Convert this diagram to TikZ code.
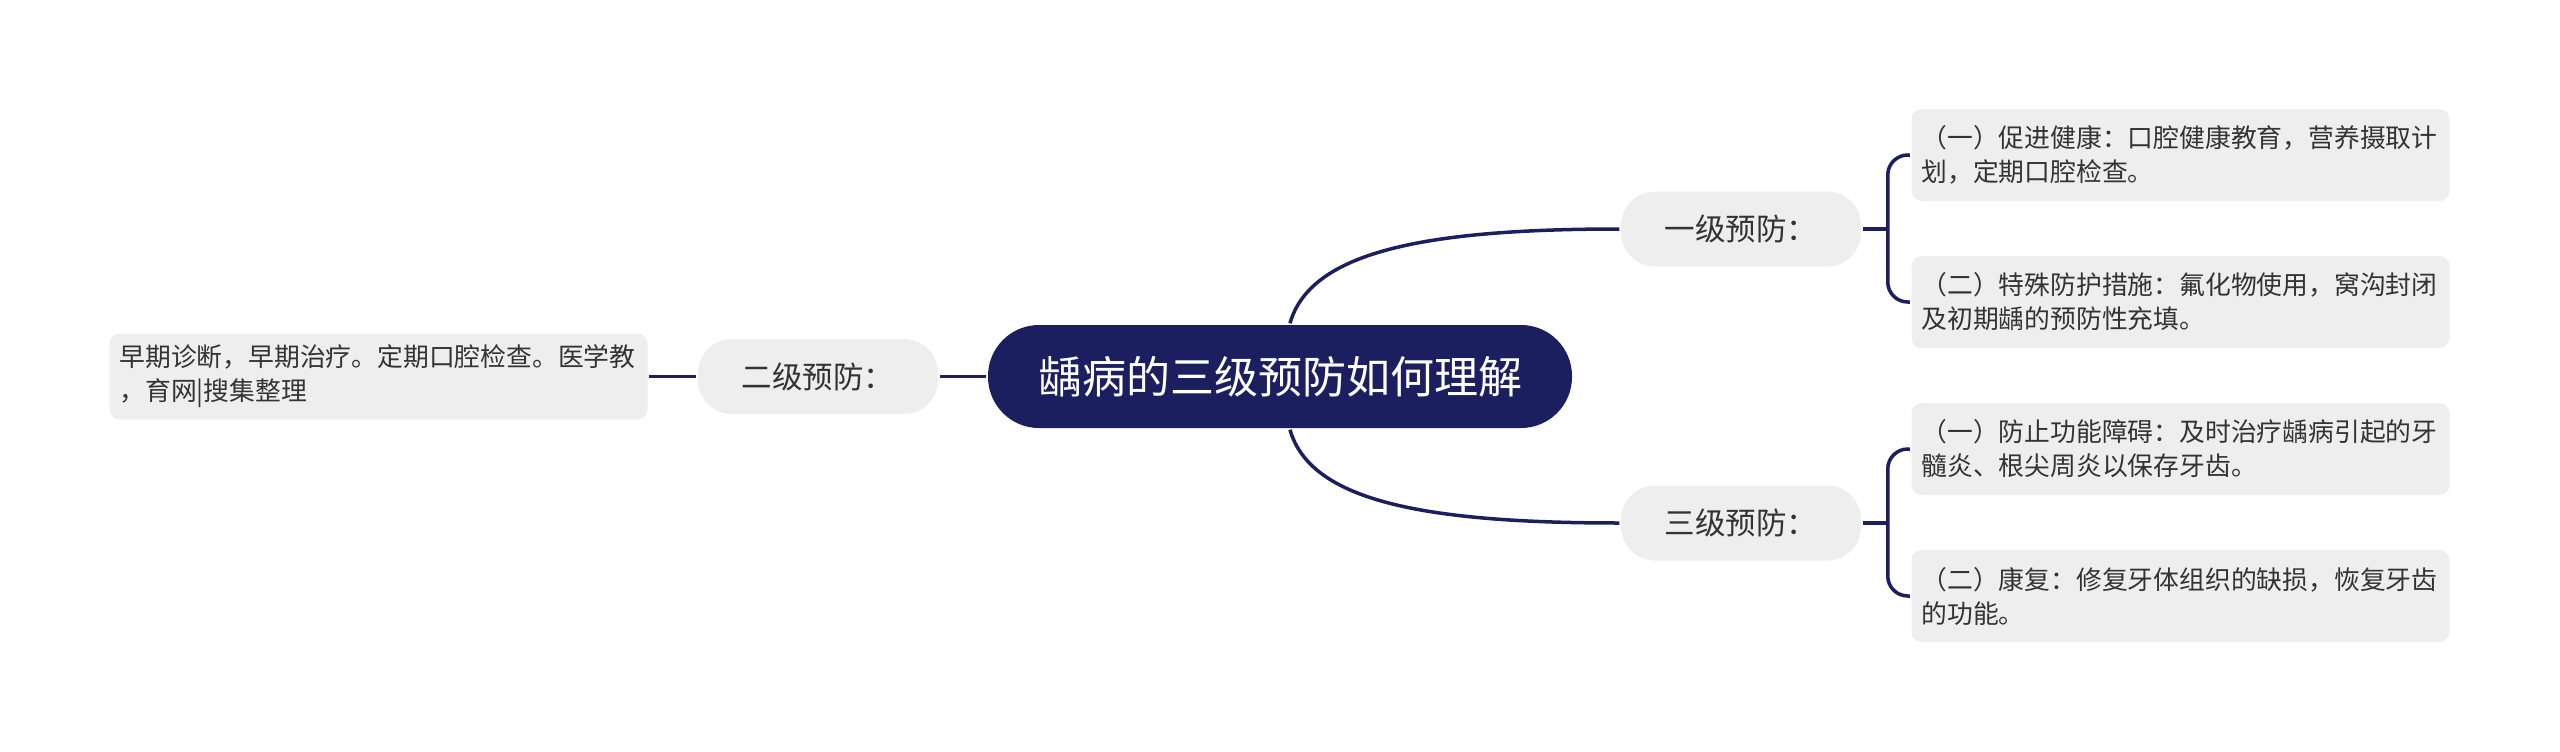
\documentclass[tikz,border=0pt]{standalone}
\usepackage{fontspec}
\setmainfont{Noto Sans CJK SC}
\definecolor{navy}{HTML}{1B1F5F}
\definecolor{pale}{HTML}{EEEEEE}
\definecolor{ink}{HTML}{333333}
\begin{document}
\begin{tikzpicture}[x=1pt, y=-1pt, line width=3.5pt,
  root/.style={fill=navy, text=white, rounded corners=51pt, inner sep=0pt,
    minimum width=584pt, minimum height=103pt, font=\fontsize{44}{52}\selectfont},
  level/.style={fill=pale, text=ink, rounded corners=34pt, inner sep=0pt,
    minimum width=240pt, minimum height=75pt, font=\fontsize{30.5}{36}\selectfont},
  leaf/.style={fill=pale, text=ink, rounded corners=10pt, inner xsep=10pt, inner ysep=0pt,
    minimum height=92pt, text width=518pt, align=left, font=\fontsize{25.8}{34}\selectfont}]
\useasboundingbox (0, 0) rectangle (2560, 752);
\node[root] (root) at (1280, 376.5) {龋病的三级预防如何理解};
\node[level] (first) at (1741, 229) {一级预防：};
\node[level] (second) at (818, 376.5) {二级预防：};
\node[level] (third) at (1741, 523) {三级预防：};
\node[leaf, minimum height=86pt] (second-a) at (378.5, 376.5) {早期诊断，早期治疗。定期口腔检查。医学教\\，育网|搜集整理};
\node[leaf] (first-a) at (2180.5, 155) {（一）促进健康：口腔健康教育，营养摄取计\\划，定期口腔检查。};
\node[leaf] (first-b) at (2180.5, 302) {（二）特殊防护措施：氟化物使用，窝沟封闭\\及初期龋的预防性充填。};
\node[leaf] (third-a) at (2180.5, 449) {（一）防止功能障碍：及时治疗龋病引起的牙\\髓炎、根尖周炎以保存牙齿。};
\node[leaf] (third-b) at (2180.5, 596) {（二）康复：修复牙体组织的缺损，恢复牙齿\\的功能。};
\draw[navy] ([xshift=10pt]root.north) .. controls +(20, -70) and +(-200, 0) .. (first.west);
\draw[navy] ([xshift=10pt]root.south) .. controls +(20, 70) and +(-200, 0) .. (third.west);
\draw[navy] (root.west) -- (second.east);
\draw[navy] (second.west) -- (second-a.east);
\draw[navy] (first.east) -- ++(25, 0) coordinate (first-j);
\draw[navy, rounded corners=20pt] (first-j) |- (first-a.west);
\draw[navy, rounded corners=20pt] (first-j) |- (first-b.west);
\draw[navy] (third.east) -- ++(25, 0) coordinate (third-j);
\draw[navy, rounded corners=20pt] (third-j) |- (third-a.west);
\draw[navy, rounded corners=20pt] (third-j) |- (third-b.west);
\end{tikzpicture}
\end{document}
